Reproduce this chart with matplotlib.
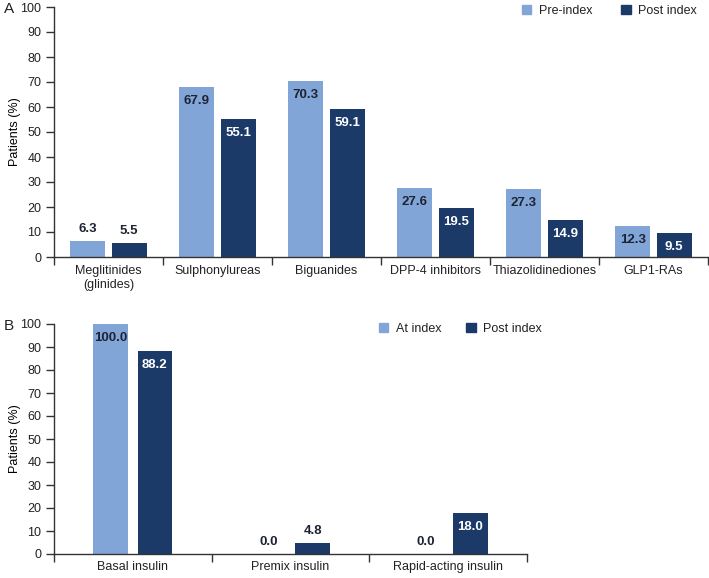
import matplotlib
matplotlib.use("Agg")
import matplotlib.pyplot as plt
from matplotlib.patches import Patch
import numpy as np

# ---- data ----
cats_a = ["Meglitinides\n(glinides)", "Sulphonylureas", "Biguanides",
          "DPP-4 inhibitors", "Thiazolidinediones", "GLP1-RAs"]
pre_index = [6.3, 67.9, 70.3, 27.6, 27.3, 12.3]
post_index_a = [5.5, 55.1, 59.1, 19.5, 14.9, 9.5]
legend_a = ["Pre-index", "Post index"]

cats_b = ["Basal insulin", "Premix insulin", "Rapid-acting insulin"]
at_index = [100.0, 0.0, 0.0]
post_index_b = [88.2, 4.8, 18.0]
legend_b = ["At index", "Post index"]

yticks = list(range(0, 101, 10))

LIGHT = "#82A5D8"
DARK = "#1B3A68"
TXT = "#1E2333"

plt.rcParams["font.family"] = ["Liberation Sans", "DejaVu Sans"]
plt.rcParams["text.color"] = "#222222"
plt.rcParams["xtick.color"] = "#222222"
plt.rcParams["ytick.color"] = "#222222"

W, H = 709, 578
fig = plt.figure(figsize=(W / 100, H / 100), dpi=100)


def px_to_pt(p):
    return p * 72 / 100


def draw(ax, cats, s1, s2, off, width, inside_thresh, xpad):
    n = len(cats)
    x = np.arange(n) + 0.5
    b1 = ax.bar(x - off, s1, width, color=LIGHT, zorder=2)
    b2 = ax.bar(x + off, s2, width, color=DARK, zorder=2)
    for bars, vals, incol in ((b1, s1, TXT), (b2, s2, "white")):
        for r, v in zip(bars, vals):
            cx = r.get_x() + r.get_width() / 2
            if v >= inside_thresh:
                ax.annotate(f"{v:.1f}", (cx, v), xytext=(0, -px_to_pt(14)),
                            textcoords="offset points", ha="center", va="center",
                            fontsize=9.5, fontweight="bold", color=incol)
            else:
                ax.annotate(f"{v:.1f}", (cx, v), xytext=(0, px_to_pt(12)),
                            textcoords="offset points", ha="center", va="center",
                            fontsize=9.5, fontweight="bold", color=TXT)
    ax.set_xlim(0, n)
    ax.set_ylim(0, 100)
    ax.set_yticks(yticks)
    ax.set_yticklabels([str(t) for t in yticks])
    ax.set_xticks(x)
    ax.set_xticklabels(cats)
    ax.set_xticks(np.arange(n + 1), minor=True)
    ax.tick_params(axis="x", which="major", length=0, pad=xpad, labelsize=9)
    ax.tick_params(axis="x", which="minor", length=6, width=1, direction="out",
                   color="#333333")
    ax.tick_params(axis="y", length=6, width=1, labelsize=9, pad=3, color="#333333")
    for s in ("top", "right"):
        ax.spines[s].set_visible(False)
    for s in ("left", "bottom"):
        ax.spines[s].set_linewidth(1)
        ax.spines[s].set_color("#333333")
    ax.set_ylabel("Patients (%)", fontsize=9)
    return ax


axA = fig.add_axes([54 / W, 1 - 257 / H, 654 / W, 250 / H])
draw(axA, cats_a, pre_index, post_index_a, 0.19, 0.32, 9, 6)
axA.yaxis.set_label_coords((21 - 54) / 654, 0.5)
hA = [Patch(color=LIGHT), Patch(color=DARK)]
fig.legend(hA, legend_a, loc="center left", bbox_to_anchor=(522 / W, 1 - 11 / H),
           ncol=2, frameon=False, handlelength=0.75, handleheight=0.75,
           handletextpad=0.6, columnspacing=2.3, fontsize=9, borderaxespad=0,
           borderpad=0)
fig.text(4 / W, 1 - 9 / H, "A", fontsize=11, va="center", ha="left")

axB = fig.add_axes([54 / W, 1 - 554 / H, 473 / W, 230 / H])
draw(axB, cats_b, at_index, post_index_b, 0.14, 0.22, 9, 5)
axB.yaxis.set_label_coords((21 - 54) / 473, 0.5)
fig.legend(hA, legend_b, loc="center left", bbox_to_anchor=(379 / W, 1 - 329 / H),
           ncol=2, frameon=False, handlelength=0.75, handleheight=0.75,
           handletextpad=0.6, columnspacing=2.0, fontsize=9, borderaxespad=0,
           borderpad=0)
fig.text(4 / W, 1 - 326 / H, "B", fontsize=11, va="center", ha="left")

fig.savefig("out.png", dpi=100)
